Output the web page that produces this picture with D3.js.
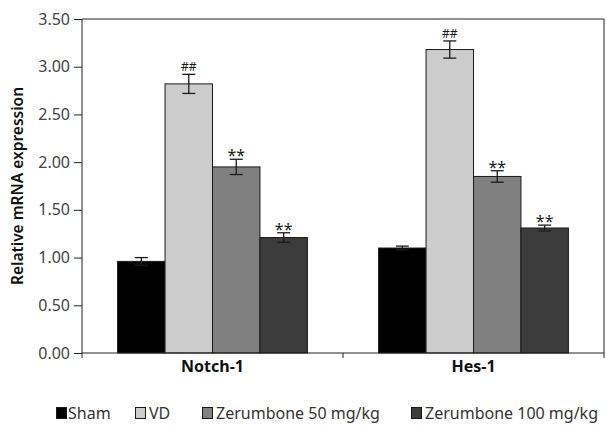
<!DOCTYPE html>
<html><head><meta charset="utf-8">
<script src="https://cdn.jsdelivr.net/npm/d3@7"></script>
<style>body{margin:0;background:#fff}svg{display:block}text{font-family:"Noto Sans",sans-serif}</style>
</head><body><svg id="c" width="606" height="430"></svg>
<script>
const categories = ["Notch-1", "Hes-1"];
const seriesNames = ["Sham", "VD", "Zerumbone 50 mg/kg", "Zerumbone 100 mg/kg"];
const seriesColors = ["#000000", "#cccccc", "#808080", "#3c3c3c"];
const sham = [0.96, 1.10];
const vd = [2.82, 3.18];
const z50 = [1.95, 1.85];
const z100 = [1.21, 1.31];
const shamErr = [0.04, 0.02];
const vdErr = [0.10, 0.09];
const z50Err = [0.08, 0.06];
const z100Err = [0.05, 0.03];
const marks = [["", ""], ["##", "##"], ["**", "**"], ["**", "**"]];
const yTicks = [0, 0.5, 1.0, 1.5, 2.0, 2.5, 3.0, 3.5];

const values = [sham, vd, z50, z100];
const errs = [shamErr, vdErr, z50Err, z100Err];

const svg = d3.select("#c");
const L = 82, R = 604, T = 19, B = 353;
const x0 = d3.scaleBand().domain(categories).range([L, R]).paddingInner(0).paddingOuter(0);
const x1 = d3.scaleBand().domain(seriesNames).range([0, x0.bandwidth()]).paddingInner(0).paddingOuter(0.75);
const y = d3.scaleLinear().domain([0, 3.5]).range([B, T]);

// frame
svg.append("line").attr("x1", L).attr("x2", R).attr("y1", T).attr("y2", T).attr("stroke", "#222").attr("stroke-width", 1);
svg.append("line").attr("x1", R).attr("x2", R).attr("y1", T).attr("y2", B).attr("stroke", "#222").attr("stroke-width", 1);

// bars
categories.forEach((c, ci) => {
  seriesNames.forEach((s, si) => {
    const bx = x0(c) + x1(s);
    const v = values[si][ci];
    svg.append("rect").attr("x", bx).attr("y", y(v)).attr("width", x1.bandwidth()).attr("height", y(0) - y(v))
      .attr("fill", seriesColors[si]).attr("stroke", "#1a1a1a").attr("stroke-width", 1);
  });
});
// error bars & marks
categories.forEach((c, ci) => {
  seriesNames.forEach((s, si) => {
    const cx = x0(c) + x1(s) + x1.bandwidth() / 2;
    const v = values[si][ci], e = errs[si][ci];
    const g = svg.append("g").attr("stroke", "#1a1a1a").attr("stroke-width", 1.3);
    g.append("line").attr("x1", cx).attr("x2", cx).attr("y1", y(v + e)).attr("y2", y(v - e));
    g.append("line").attr("x1", cx - 6.5).attr("x2", cx + 6.5).attr("y1", y(v + e)).attr("y2", y(v + e));
    g.append("line").attr("x1", cx - 6.5).attr("x2", cx + 6.5).attr("y1", y(v - e)).attr("y2", y(v - e));
    const m = marks[si][ci];
    if (m) {
      svg.append("text").attr("x", cx).attr("y", y(v + e) + (m === "**" ? 2 : -3)).attr("text-anchor", "middle")
        .attr("font-size", m === "**" ? 16 : 12).attr("fill", "#1a1a1a").text(m);
    }
  });
});

// y axis
const yAxis = svg.append("g").attr("transform", `translate(${L},0)`)
  .call(d3.axisLeft(y).tickValues(yTicks).tickFormat(d3.format(".2f")).tickSize(8).tickPadding(4));
yAxis.select(".domain").attr("stroke", "#222").attr("d", `M0,${T}V${B + 5}`);
yAxis.selectAll(".tick line").attr("stroke", "#222");
yAxis.selectAll("text").attr("font-size", 16).attr("fill", "#444").attr("font-family", "Noto Sans");

// x axis
const xAxis = svg.append("g").attr("transform", `translate(0,${B})`)
  .call(d3.axisBottom(x0).tickSize(0).tickPadding(8));
xAxis.select(".domain").attr("stroke", "#222").attr("d", `M${L},0H${R}`);
xAxis.selectAll("text").attr("font-size", 16).attr("font-weight", "bold").attr("fill", "#111").attr("font-family", "Noto Sans");
// category separator ticks
[x0(categories[1]), R].forEach(t => {
  svg.append("line").attr("x1", t).attr("x2", t).attr("y1", B).attr("y2", B + 5).attr("stroke", "#222");
});

// y title
svg.append("text").attr("transform", `translate(23,${(T + B) / 2}) rotate(-90)`).attr("text-anchor", "middle")
  .attr("font-size", 15.5).attr("font-weight", 600).attr("fill", "#111").text("Relative mRNA expression");

// legend
const legX = [56, 135, 202, 411];
seriesNames.forEach((s, i) => {
  svg.append("rect").attr("x", legX[i] + 0.5).attr("y", 407.5).attr("width", 10).attr("height", 11)
    .attr("fill", seriesColors[i]).attr("stroke", "#1a1a1a").attr("stroke-width", 1);
  svg.append("text").attr("x", legX[i] + (i === 0 ? 12 : 14)).attr("y", 419).attr("font-size", 16)
    .attr("fill", "#333").text(s);
});
</script></body></html>
